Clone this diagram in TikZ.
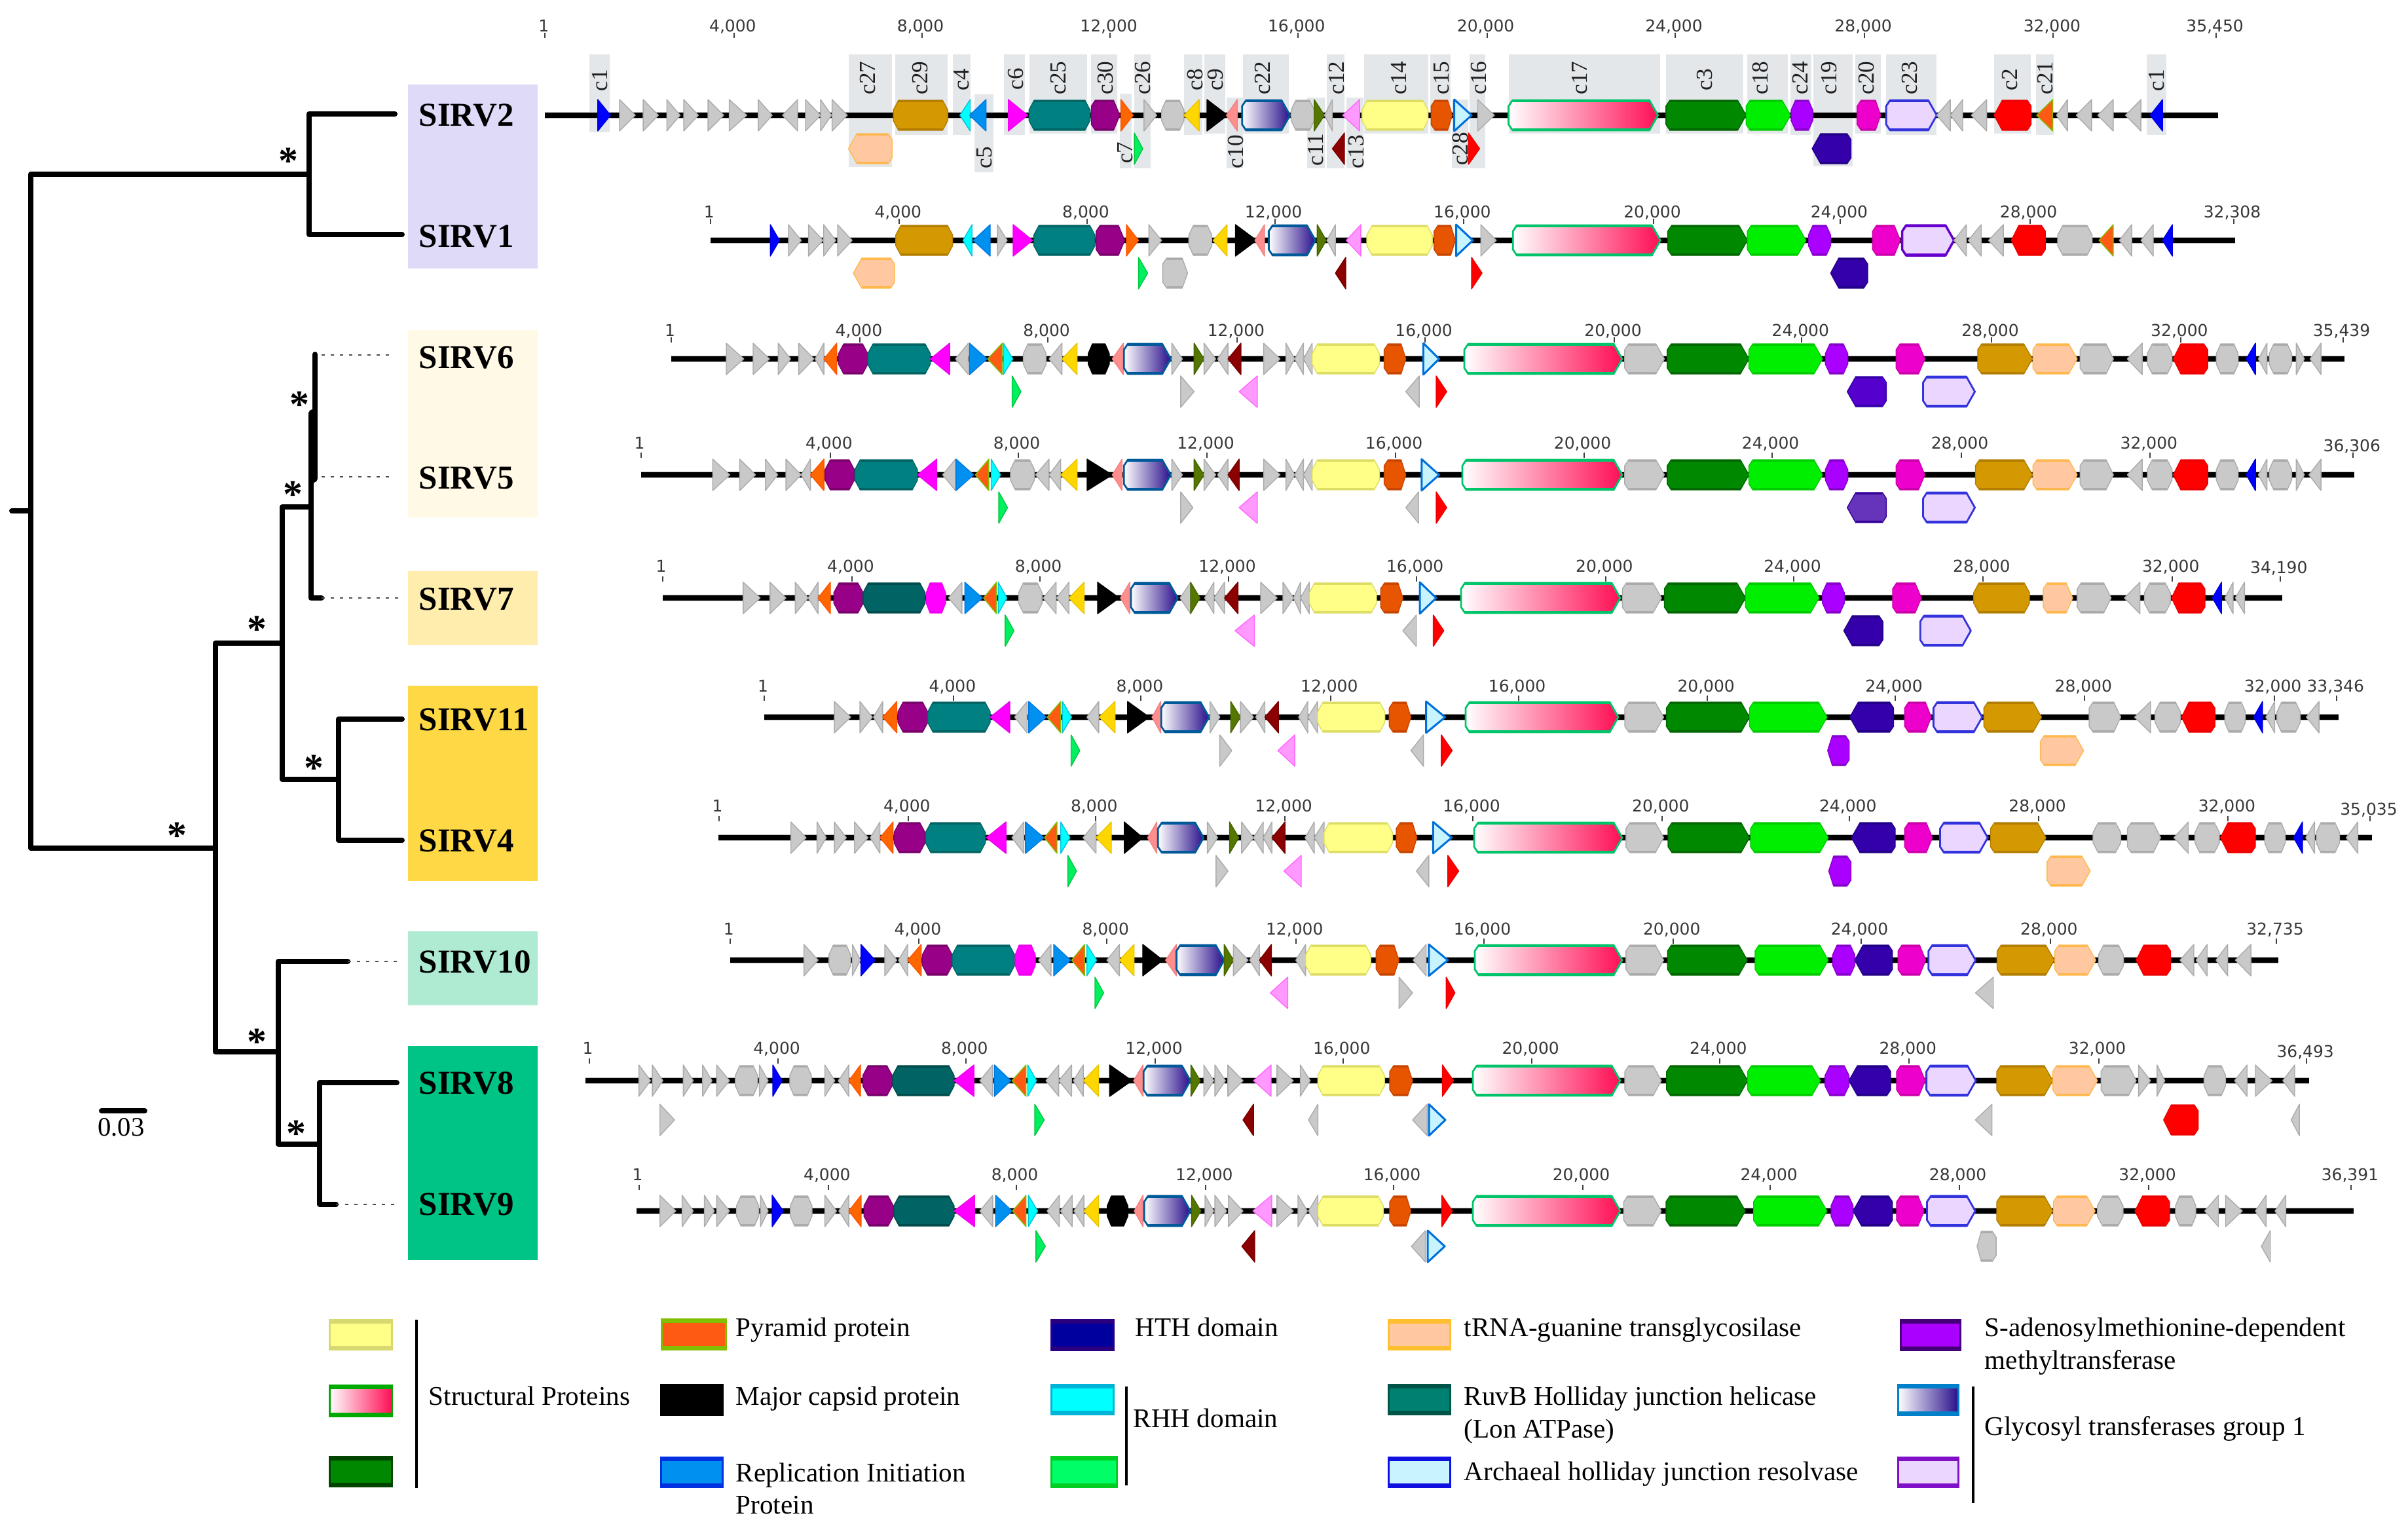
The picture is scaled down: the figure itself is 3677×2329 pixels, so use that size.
\documentclass[tikz,border=0pt]{standalone}
\usepackage{fontspec}
\setmainfont{Liberation Serif}
\newfontfamily\tickfam{DejaVu Sans}
\newcommand\defgene[3]{\definecolor{#1F}{HTML}{#2}\definecolor{#1S}{HTML}{#3}\tikzset{#1/.style={fill=#1F,draw=#1S}}}
\newcommand\defgrad[3]{\definecolor{#1F}{HTML}{#2}\definecolor{#1S}{HTML}{#3}\tikzset{#1/.style={left color=white,right color=#1F,draw=#1S,line width=.028cm}}}
\definecolor{boxgrey}{HTML}{E4E7EA}
\defgene{xgy}{C9C9C9}{ABABAB}
\defgene{xbu}{0000FF}{0000E0}
\defgene{xgo}{D49800}{B27D00}
\defgene{xcy}{00FFFF}{00C4DC}
\defgene{xrb}{0090F0}{0078E0}
\defgene{xmg}{FF00FF}{F000F0}
\defgene{xte}{008080}{006464}
\defgene{xtd}{006464}{004C4C}
\defgene{xpu}{990088}{7A006C}
\defgene{xor}{FF6600}{FF5500}
\defgene{xoc}{FF5A14}{7FC000}
\defgene{xye}{FFD700}{E8C400}
\defgene{xbk}{000000}{000000}
\defgene{xsa}{FF8F8F}{F58080}
\defgene{xol}{557700}{446600}
\defgene{xpk}{FF99FF}{FF66FF}
\defgene{xdr}{8B0000}{7A0000}
\defgene{xpy}{FFFF88}{DDDD66}
\defgene{xbo}{E85500}{C84500}
\defgene{xrd}{FF0000}{EE0000}
\defgene{xdg}{008800}{006600}
\defgene{xlg}{00EE00}{00CC00}
\defgene{xvi}{AA00FF}{8800CC}
\defgene{xin}{3300AA}{220088}
\defgene{xim}{5500CC}{3300AA}
\defgene{xil}{6633BB}{330099}
\defgene{xmd}{EE00CC}{CC00AA}
\defgene{xpe}{FFC8A0}{FFB84D}
\defgene{xgr}{00F060}{00C840}
\defgene{xlv}{EBD6FF}{3333DD}
\defgene{xlp}{EBD6FF}{6600CC}
\defgene{xlb}{C8F4FF}{0070D8}
\defgrad{xgt}{2A108C}{005A9A}
\defgrad{xgs}{FF0F55}{00C46A}
\tikzset{xlv/.append style={line width=.028cm},xlp/.append style={line width=.035cm},xlb/.append style={line width=.03cm},
 gene/.style={line width=.014cm,line join=round},
 tickmark/.style={draw=black!75,line width=.02cm},
 ticklabel/.style={anchor=base,inner sep=0pt,text=black!78,font=\tickfam\fontsize{7.1pt}{8pt}\selectfont},
 backbone/.style={draw=black,line width=.075cm},
 halo/.style={draw=black!25,line width=.1cm},
 labelbox/.style={fill=boxgrey,draw=none},
 contig/.style={rotate=90,inner sep=0pt,text=black!88,font=\fontsize{10pt}{11pt}\selectfont},
 branch/.style={draw=black,line width=.08cm,line cap=round,line join=round},
 dotline/.style={draw=black!70,line width=.016cm,dash pattern=on .05cm off .09cm},
 taxon/.style={anchor=base west,inner sep=0pt,font=\bfseries\fontsize{14.5pt}{16pt}\selectfont},
 star/.style={anchor=base,inner sep=0pt,font=\bfseries\fontsize{17pt}{18pt}\selectfont},
 legtext/.style={anchor=base west,inner sep=0pt,font=\fontsize{11.7pt}{13pt}\selectfont},
 legline/.style={draw=black,line width=.04cm}}
\newcount\nodeN
\newcommand\setx[2]{\def\Xo{#1}\def\Xf{#2}}
\newcommand\gcalc[2]{\pgfmathsetmacro\gA{\Xo+(#1)*\Xf}\pgfmathsetmacro\gB{\Xo+(#2)*\Xf}}
\newcommand\gTR[3]{\gcalc{#1}{#2}\path[gene,#3] (\gA,\Yc-24) -- (\gB,\Yc) -- (\gA,\Yc+24) -- cycle;}
\newcommand\gTL[3]{\gcalc{#1}{#2}\path[gene,#3] (\gB,\Yc-24) -- (\gA,\Yc) -- (\gB,\Yc+24) -- cycle;}
\newcommand\gband[3]{\draw[draw=#3S,line width=.035cm] (#1,\Yc-21.5) -- (#2,\Yc-21.5) (#1,\Yc+21.5) -- (#2,\Yc+21.5);}
\newcommand\gHR[3]{\gcalc{#1}{#2}\pgfmathsetmacro\gP{min(13,0.22*(\gB-\gA))}\path[gene,#3] (\gA,\Yc-14) -- (\gA+6,\Yc-23) -- (\gB-\gP,\Yc-23) -- (\gB,\Yc) -- (\gB-\gP,\Yc+23) -- (\gA+6,\Yc+23) -- (\gA,\Yc+14) -- cycle;\gband{\gA+6}{\gB-\gP}{#3}}
\newcommand\gHL[3]{\gcalc{#1}{#2}\pgfmathsetmacro\gP{min(13,0.22*(\gB-\gA))}\path[gene,#3] (\gB,\Yc-14) -- (\gB-6,\Yc-23) -- (\gA+\gP,\Yc-23) -- (\gA,\Yc) -- (\gA+\gP,\Yc+23) -- (\gB-6,\Yc+23) -- (\gB,\Yc+14) -- cycle;\gband{\gA+\gP}{\gB-6}{#3}}
\newcommand\gHH[3]{\gcalc{#1}{#2}\pgfmathsetmacro\gP{min(8,0.2*(\gB-\gA))}\path[gene,#3] (\gA,\Yc-8) -- (\gA+\gP,\Yc-23) -- (\gB-\gP,\Yc-23) -- (\gB,\Yc-8) -- (\gB,\Yc+8) -- (\gB-\gP,\Yc+23) -- (\gA+\gP,\Yc+23) -- (\gA,\Yc+8) -- cycle;\gband{\gA+\gP}{\gB-\gP}{#3}}
\newcommand\gsg[2]{{\setx{0}{1}\gHR{#1}{#2}{xgs}}}
\newcommand\gR[2]{\gTR{#1}{#2}{xgy}}
\newcommand\gL[2]{\gTL{#1}{#2}{xgy}}
\newcommand\gH[2]{\gHH{#1}{#2}{xgy}}
\newcommand\gG[2]{\gHR{#1}{#2}{xgy}}
\newcommand\tk[3][0]{\gcalc{#2}{#2}\global\advance\nodeN by 1
 \coordinate (tka\the\nodeN) at (\gA,\Yt-8);\coordinate (tkb\the\nodeN) at (\gA,\Yt);\draw[tickmark] (tka\the\nodeN) -- (tkb\the\nodeN);
 \node[ticklabel] (tkl\the\nodeN) at (\gA-2,\Yt-10+#1+\Ld) {#3};}
\newcommand\row[4]{\def\Yc{#2}\def\Ld{0}\pgfmathsetmacro\Yt{#2-25}\coordinate (bbs#1) at (#3,#2);\coordinate (bbe#1) at (#4,#2);\draw[halo] (bbs#1) -- (bbe#1);\draw[backbone] (bbs#1) -- (bbe#1);}
\newcommand\cbox[4]{\gcalc{#1}{#2}\fill[labelbox] (\gA,#3/3) rectangle (\gB,#4/3);}
\newcommand\clab[3]{\gcalc{#1}{#1}\global\advance\nodeN by 1\node[contig] (cl\the\nodeN) at (\gA,#2/3) {#3};}
\newcommand\taxbx[6]{\definecolor{#6}{HTML}{#5}\fill[fill=#6] (#1,#2) rectangle (#3,#4);}
\newcommand\swatch[5]{\path[#5,line width=.03cm,line join=miter] (#1,#2) rectangle (#3,#4);\draw[draw=#5S,line width=.05cm] (#1,#2+3) -- (#3,#2+3) (#1,#4-3) -- (#3,#4-3);}
\defgene{sA}{FFFF88}{D8D870}\defgene{sD}{FF5A14}{80C000}\defgene{sE}{000000}{000000}
\defgene{sC}{008800}{004400}\defgene{sF}{0090F0}{0030E0}\defgene{sG}{00009E}{2A0080}
\defgene{sH}{00FFFF}{00B4D8}\defgene{sI}{00FF66}{00CC22}\defgene{sJ}{FFC8A0}{FFC030}
\defgene{sK}{008070}{005548}\defgene{sL}{C8F4FF}{1010E0}\defgene{sM}{AA00FF}{440077}
\defgene{sO}{EBD6FF}{8010C8}
\defgrad{sB}{FF0F55}{00AA00}\defgrad{sN}{2A108C}{0080C8}
\begin{document}
\begin{tikzpicture}[x=0.01cm,y=-0.01cm]
\useasboundingbox (0,0) rectangle (3677,2329);
\fill[white] (0,0) rectangle (3677,2329);
% taxon boxes
\taxbx{623}{129}{821}{410}{DEDAF8}{bxa}
\taxbx{623}{504}{821}{790}{FFF9E6}{bxb}
\taxbx{623}{872}{821}{985}{FFEDAE}{bxc}
\taxbx{623}{1047}{821}{1345}{FFD845}{bxd}
\taxbx{623}{1422}{821}{1535}{AEEBD2}{bxe}
\taxbx{623}{1597}{821}{1924}{00C386}{bxf}
\node[taxon] (SIRV2) at (639,192) {SIRV2};
\node[taxon] (SIRV1) at (639,377) {SIRV1};
\node[taxon] (SIRV6) at (639,562) {SIRV6};
\node[taxon] (SIRV5) at (639,746) {SIRV5};
\node[taxon] (SIRV7) at (639,931) {SIRV7};
\node[taxon] (SIRV11) at (639,1115) {SIRV11};
\node[taxon] (SIRV4) at (639,1300) {SIRV4};
\node[taxon] (SIRV10) at (639,1485) {SIRV10};
\node[taxon] (SIRV8) at (639,1670) {SIRV8};
\node[taxon] (SIRV9) at (639,1855) {SIRV9};
% tree
\coordinate (ra) at (18,780);\coordinate (rb) at (47,780);
\coordinate (rt) at (47,266);\coordinate (rl) at (47,1295);
\coordinate (n1) at (472,266);\coordinate (n1a) at (472,174);\coordinate (n1b) at (472,358);
\coordinate (f2) at (603,174);\coordinate (f1) at (614,358);
\coordinate (n2) at (329,1295);\coordinate (n2a) at (329,982);\coordinate (n2b) at (329,1606);
\coordinate (n3) at (431,982);\coordinate (n3a) at (431,774);\coordinate (n3b) at (431,1190);
\coordinate (n4) at (475,774);\coordinate (n4a) at (475,632);\coordinate (n4b) at (475,913);\coordinate (f7) at (491,913);
\coordinate (n5a) at (478,632);\coordinate (n5b) at (478,730);\coordinate (n6a) at (481,541);\coordinate (n6b) at (481,640);
\coordinate (n7) at (517,1190);\coordinate (n7a) at (517,1098);\coordinate (n7b) at (517,1283);
\coordinate (f11) at (614,1098);\coordinate (f4) at (614,1283);
\coordinate (n8) at (425,1606);\coordinate (n8a) at (425,1468);\coordinate (n8b) at (425,1747);\coordinate (f10) at (531,1468);
\coordinate (n9) at (488,1747);\coordinate (n9a) at (488,1653);\coordinate (n9b) at (488,1839);
\coordinate (f8) at (606,1653);\coordinate (f9) at (513,1839);
\coordinate (d6a) at (491,542);\coordinate (d6b) at (601,542);\coordinate (d5a) at (491,728);\coordinate (d5b) at (601,728);
\coordinate (d7b) at (608,913);\coordinate (d10b) at (608,1468);\coordinate (d9b) at (606,1839);
\draw[branch] (ra) -- (rb);
\draw[branch] (n1) -- (rt) -- (rl) -- (n2);
\draw[branch] (f2) -- (n1a) -- (n1b) -- (f1);
\draw[branch] (n3) -- (n2a) -- (n2b) -- (n8);
\draw[branch] (n4) -- (n3a) -- (n3b) -- (n7);
\draw[branch] (n4a) -- (n4b) -- (f7);
\draw[branch,line width=.14cm] (n5a) -- (n5b);
\draw[branch] (n6a) -- (n6b);
\draw[branch] (f11) -- (n7a) -- (n7b) -- (f4);
\draw[branch] (f10) -- (n8a) -- (n8b) -- (n9);
\draw[branch] (f8) -- (n9a) -- (n9b) -- (f9);
\draw[dotline] (d6a) -- (d6b);\draw[dotline] (d5a) -- (d5b);\draw[dotline] (f7) -- (d7b);
\draw[dotline] (f10) -- (d10b);\draw[dotline] (f9) -- (d9b);
\node[star] (st1) at (440,265) {*};
\node[star] (st2) at (457,637) {*};
\node[star] (st3) at (447,774) {*};
\node[star] (st4) at (392,980) {*};
\node[star] (st5) at (479,1192) {*};
\node[star] (st6) at (270,1295) {*};
\node[star] (st7) at (392,1610) {*};
\node[star] (st8) at (452,1750) {*};
\coordinate (sba) at (155,1696);\coordinate (sbb) at (221,1696);
\draw[branch] (sba) -- (sbb);
\node[anchor=base,inner sep=0pt,font=\fontsize{11.6pt}{13pt}\selectfont] (sbl) at (185,1734) {0.03};
% ---------- contig boxes of SIRV2
\setx{800}{.9247}
\cbox{108}{142}{250}{605}\cbox{536}{608}{250}{765}\cbox{613}{700}{250}{618}\cbox{708}{738}{250}{618}
\cbox{744}{775}{433}{790}\cbox{793}{827}{250}{618}\cbox{835}{930}{250}{613}\cbox{936}{980}{250}{613}
\cbox{1008}{1035}{250}{770}\cbox{984}{1004}{430}{770}\cbox{1090}{1120}{250}{618}\cbox{1124}{1158}{250}{613}
\cbox{1160}{1187}{447}{770}\cbox{1187}{1263}{250}{613}\cbox{1293}{1323}{447}{770}\cbox{1326}{1355}{250}{770}
\cbox{1358}{1386}{447}{770}\cbox{1388}{1493}{250}{613}\cbox{1497}{1530}{250}{613}
\setx{2200}{.942}
\cbox{47}{72}{250}{770}\cbox{18}{45}{455}{770}\cbox{110}{356}{250}{613}\cbox{365}{490}{250}{613}
\cbox{497}{563}{250}{613}\cbox{567}{601}{250}{618}\cbox{604}{668}{250}{763}\cbox{672}{713}{250}{613}
\cbox{722}{804}{250}{618}\cbox{897}{956}{250}{613}\cbox{965}{994}{250}{618}\cbox{1144}{1176}{250}{618}
% ---------- SIRV2
\row{a}{176}{832}{3387}\def\Yt{58}
\setx{800}{.9247}
\tk{35}{1}\tk{347}{4,000}\tk{657}{8,000}\tk{968}{12,000}\tk{1278}{16,000}
\gTR{122}{143}{xbu}\gR{158}{184}\gR{197}{222}\gR{236}{258}\gR{264}{288}\gR{304}{330}\gR{339}{368}\gR{387}{410}\gL{427}{452}\gR{465}{490}\gR{490}{508}\gR{509}{534}
\gHH{610}{700}{xgo}\gTL{720}{737}{xcy}\gTL{736}{763}{xrb}\gTR{800}{832}{xmg}\gHH{834}{935}{xte}\gHR{937}{984}{xpu}\gTR{986}{1006}{xor}\gR{1024}{1045}\gH{1053}{1090}\gTL{1090}{1115}{xye}\gTR{1128}{1162}{xbk}\gTL{1160}{1178}{xsa}\gHR{1186}{1265}{xgt}\gH{1267}{1305}\gTR{1305}{1322}{xol}\gL{1322}{1335}\gTL{1352}{1380}{xpk}\gHH{1384}{1493}{xpy}\gHR{1498}{1533}{xbo}
\setx{2200}{.942}
\tk{75}{20,000}\tk{380}{24,000}\tk{687}{28,000}\tk{993}{32,000}\tk{1257}{35,450}
\gTR{22}{50}{xlb}\gR{60}{87}\gHR{110}{352}{xgs}\gHR{365}{495}{xdg}\gHR{495}{567}{xlg}\gHH{568}{603}{xvi}\gHR{675}{713}{xmd}\gHR{722}{804}{xlv}\gL{804}{826}\gL{826}{846}\gL{860}{885}\gHL{897}{957}{xrd}\gTL{966}{992}{xoc}\gL{998}{1016}\gL{1030}{1055}\gL{1065}{1090}\gL{1110}{1135}\gTL{1150}{1170}{xbu}
\def\Yc{227}
\gTR{45}{63}{xrd}\gHL{602}{665}{xin}
\setx{800}{.9247}
\gHL{536}{608}{xpe}\gTR{1008}{1022}{xgr}\gTL{1335}{1355}{xdr}
% contig labels
\clab{125}{368}{c1}\clab{568}{357}{c27}\clab{654}{357}{c29}\clab{723}{365}{c4}\clab{760}{722}{c5}\clab{812}{362}{c6}\clab{882}{357}{c25}\clab{960}{357}{c30}\clab{1022}{357}{c26}\clab{993}{700}{c7}\clab{1108}{365}{c8}\clab{1142}{365}{c9}\clab{1175}{695}{c10}\clab{1220}{357}{c22}\clab{1308}{685}{c11}\clab{1342}{357}{c12}\clab{1374}{695}{c13}\clab{1445}{357}{c14}\clab{1515}{357}{c15}
\setx{2200}{.942}
\clab{62}{357}{c16}\clab{32}{682}{c28}\clab{225}{357}{c17}\clab{428}{365}{c3}\clab{518}{357}{c18}\clab{583}{357}{c24}\clab{630}{357}{c19}\clab{690}{357}{c20}\clab{760}{357}{c23}\clab{923}{365}{c2}\clab{980}{357}{c21}\clab{1160}{368}{c1}
% ---------- SIRV1
\row{b}{367}{1085}{3413}
\setx{800}{.9247}
\tk{308}{1}\tk{620}{4,000}\tk{930}{8,000}\tk{1240}{12,000}
\gTR{407}{422}{xbu}\gR{437}{458}\gR{470}{494}\gR{495}{515}\gR{518}{542}\gHH{614}{708}{xgo}\gTL{725}{740}{xcy}\gTL{742}{770}{xrb}\gR{782}{798}\gTR{808}{840}{xmg}\gHH{842}{943}{xte}\gHR{945}{992}{xpu}\gTR{995}{1015}{xor}\gR{1032}{1053}\gH{1098}{1136}\gTL{1138}{1161}{xye}\gTR{1175}{1210}{xbk}\gTL{1207}{1223}{xsa}\gHR{1230}{1307}{xgt}\gTR{1310}{1325}{xol}\gL{1326}{1340}\gTL{1358}{1382}{xpk}\gHH{1392}{1500}{xpy}\gHR{1503}{1538}{xbo}
\setx{2200}{.942}
\tk{37}{16,000}\tk{345}{20,000}\tk{648}{24,000}\tk{955}{28,000}\tk{1285}{32,308}
\gTR{25}{52}{xlb}\gR{65}{90}\gHR{117}{356}{xgs}\gHR{368}{497}{xdg}\gHR{497}{592}{xlg}\gHH{596}{632}{xvi}\gHR{700}{745}{xmd}\gHR{748}{832}{xlp}\gL{832}{852}\gL{855}{876}\gL{888}{912}\gHL{925}{980}{xrd}\gH{1000}{1056}\gTL{1067}{1090}{xoc}\gL{1100}{1120}\gL{1135}{1155}\gTL{1170}{1186}{xbu}
\def\Yc{417}
\gTR{50}{67}{xrd}\gHL{632}{692}{xin}
\setx{800}{.9247}
\gHL{544}{612}{xpe}\gTR{1015}{1030}{xgr}\gG{1055}{1096}\gTL{1340}{1357}{xdr}
% ---------- SIRV6
\row{c}{548}{1025}{3580}
\setx{950}{.893}
\tk{84}{1}\tk{407}{4,000}\tk{728}{8,000}\tk{1052}{12,000}\tk{1373}{16,000}
\gR{178}{208}\gR{224}{252}\gR{267}{288}\gR{302}{328}\gL{330}{345}\gTL{345}{367}{xor}\gHH{370}{420}{xpu}\gHH{420}{527}{xte}\gTL{527}{560}{xmg}\gL{570}{592}\gTR{594}{624}{xrb}\gTL{625}{650}{xoc}\gTR{652}{668}{xcy}\gH{686}{725}\gL{730}{752}\gTL{752}{778}{xye}\gHH{797}{833}{xbk}\gTL{838}{857}{xsa}\gHR{858}{938}{xgt}\gR{940}{958}\gTR{978}{995}{xol}\gR{995}{1015}\gL{1018}{1036}\gTL{1036}{1058}{xdr}\gR{1097}{1125}\gR{1135}{1150}\gL{1150}{1165}\gL{1165}{1180}\gHH{1180}{1295}{xpy}\gHR{1303}{1340}{xbo}\gTR{1370}{1397}{xlb}
\setx{2300}{.878}
\gsg{2236}{2477}
\tk{188}{20,000}\tk{514}{24,000}\tk{844}{28,000}\tk{1173}{32,000}\tk{1455}{35,439}
\gG{206}{275}\gHR{280}{422}{xdg}\gHR{422}{550}{xlg}\gHH{555}{594}{xvi}\gHR{678}{728}{xmd}\gHR{820}{915}{xgo}\gHR{916}{993}{xpe}\gG{998}{1056}\gL{1080}{1106}\gH{1115}{1158}\gHL{1160}{1220}{xrd}\gH{1235}{1273}\gTL{1287}{1303}{xbu}\gL{1308}{1323}\gH{1327}{1366}\gR{1374}{1388}\gL{1398}{1417}
\def\Yc{598}
\gHL{593}{661}{xim}\gHR{725}{815}{xlv}
\setx{950}{.893}
\gTR{667}{682}{xgr}\gR{955}{978}\gTL{1055}{1086}{xpk}\gL{1340}{1363}\gTR{1392}{1410}{xrd}
% ---------- SIRV5
\row{d}{725}{979}{3595}\def\Yt{699}\def\Ld{-4}
\setx{950}{.893}
\tk{32}{1}\tk{356}{4,000}\tk{677}{8,000}\tk{1000}{12,000}\tk{1322}{16,000}
\gR{155}{184}\gR{201}{228}\gR{245}{266}\gR{280}{306}\gL{306}{322}\gTL{322}{345}{xor}\gHH{347}{397}{xpu}\gHH{398}{505}{xte}\gTL{505}{538}{xmg}\gL{548}{570}\gTR{571}{601}{xrb}\gTL{604}{627}{xoc}\gTR{631}{647}{xcy}\gH{664}{705}\gL{707}{730}\gL{730}{750}\gTL{750}{778}{xye}\gTR{795}{838}{xbk}\gTL{838}{855}{xsa}\gHR{858}{938}{xgt}\gR{940}{958}\gTR{978}{995}{xol}\gR{995}{1015}\gL{1018}{1036}\gTL{1036}{1055}{xdr}\gR{1097}{1125}\gR{1135}{1150}\gL{1150}{1165}\gL{1165}{1180}\gHH{1180}{1295}{xpy}\gHR{1303}{1340}{xbo}\gTR{1367}{1397}{xlb}
\setx{2300}{.878}
\gsg{2233}{2477}
\tk{135}{20,000}\tk{462}{24,000}\tk{791}{28,000}\tk{1120}{32,000}\tk[4]{1473}{36,306}
\gG{206}{275}\gHR{280}{422}{xdg}\gHR{422}{550}{xlg}\gHH{555}{594}{xvi}\gHR{678}{728}{xmd}\gHR{816}{915}{xgo}\gHR{916}{993}{xpe}\gG{998}{1056}\gL{1080}{1106}\gH{1115}{1158}\gHL{1160}{1220}{xrd}\gH{1235}{1273}\gTL{1287}{1303}{xbu}\gL{1308}{1323}\gH{1327}{1366}\gR{1374}{1388}\gL{1396}{1417}
\def\Yc{775}
\gHL{593}{661}{xil}\gHR{725}{815}{xlv}
\setx{950}{.893}
\gTR{644}{659}{xgr}\gR{955}{976}\gTL{1055}{1086}{xpk}\gL{1340}{1362}\gTR{1392}{1410}{xrd}
% ---------- SIRV7
\row{e}{913}{1012}{3485}\def\Yt{888}\def\Ld{-5}
\setx{950}{.893}
\tk{69}{1}\tk{393}{4,000}\tk{714}{8,000}\tk{1037}{12,000}\tk{1358}{16,000}
\gR{207}{236}\gR{253}{280}\gR{296}{318}\gL{318}{335}\gTL{335}{356}{xor}\gHH{362}{412}{xpu}\gHH{412}{518}{xtd}\gHH{520}{553}{xmg}\gL{558}{581}\gTR{586}{616}{xrb}\gTL{618}{640}{xoc}\gTR{643}{658}{xcy}\gH{678}{718}\gL{720}{742}\gL{743}{764}\gTL{764}{790}{xye}\gTR{813}{850}{xbk}\gTL{852}{868}{xsa}\gHR{870}{950}{xgt}\gL{954}{972}\gTR{972}{988}{xol}\gL{996}{1012}\gL{1012}{1030}\gTL{1030}{1053}{xdr}\gR{1092}{1120}\gR{1130}{1148}\gL{1148}{1160}\gL{1160}{1175}\gHH{1175}{1290}{xpy}\gHR{1297}{1335}{xbo}\gTR{1364}{1392}{xlb}
\setx{2300}{.878}
\gsg{2231}{2474}
\tk{173}{20,000}\tk{500}{24,000}\tk{829}{28,000}\tk{1158}{32,000}\tk[2]{1346}{34,190}
\gG{202}{270}\gHR{275}{416}{xdg}\gHR{416}{544}{xlg}\gHH{550}{588}{xvi}\gHR{672}{722}{xmd}\gHH{813}{910}{xgo}\gHR{934}{985}{xpe}\gG{993}{1052}\gL{1075}{1102}\gH{1110}{1155}\gHL{1157}{1215}{xrd}\gTL{1228}{1244}{xbu}\gL{1250}{1264}\gL{1268}{1284}
\def\Yc{963}
\gHL{587}{655}{xin}\gHR{720}{808}{xlv}
\setx{950}{.893}
\gTR{655}{670}{xgr}\gTL{1048}{1081}{xpk}\gL{1335}{1358}\gTR{1387}{1405}{xrd}
% ---------- SIRV11
\row{f}{1095}{1167}{3571}\def\Yt{1070}\def\Ld{-4}
\setx{1100}{.829}
\tk{81}{1}\tk{430}{4,000}\tk{775}{8,000}\tk{1124}{12,000}\tk{1470}{16,000}
\gR{210}{240}\gR{257}{280}\gL{282}{299}\gTL{299}{325}{xor}\gHH{327}{382}{xpu}\gHH{382}{497}{xte}\gTL{497}{533}{xmg}\gL{542}{565}\gTR{568}{600}{xrb}\gTL{602}{627}{xoc}\gTR{630}{647}{xcy}\gL{675}{697}\gTL{698}{727}{xye}\gTR{750}{790}{xbk}\gTL{795}{811}{xsa}\gHR{812}{900}{xgt}\gR{902}{920}\gTR{940}{958}{xol}\gR{958}{982}\gL{986}{1003}\gTL{1003}{1028}{xdr}\gL{1065}{1082}\gL{1082}{1100}\gHH{1100}{1224}{xpy}\gHR{1232}{1272}{xbo}\gTR{1300}{1335}{xlb}
\setx{2350}{.846}
\gsg{2238}{2471}
\tk{304}{20,000}\tk{643}{24,000}\tk{985}{28,000}\tk{1327}{32,000}\tk{1440}{33,346}
\gG{155}{225}\gHR{230}{380}{xdg}\gHR{380}{520}{xlg}\gHL{561}{640}{xin}\gHR{660}{708}{xmd}\gHR{712}{800}{xlv}\gHR{803}{907}{xgo}\gG{993}{1050}\gL{1075}{1104}\gH{1112}{1158}\gHL{1160}{1220}{xrd}\gH{1238}{1275}\gTL{1290}{1306}{xbu}\gL{1312}{1328}\gH{1332}{1374}\gL{1385}{1408}
\def\Yc{1146}
\gHL{521}{560}{xvi}\gHR{905}{983}{xpe}
\setx{1100}{.829}
\gTR{646}{662}{xgr}\gR{920}{942}\gTL{1027}{1058}{xpk}\gL{1272}{1295}\gTR{1328}{1348}{xrd}
% ---------- SIRV4
\row{g}{1279}{1097}{3622}\def\Yt{1254}\def\Ld{-5}
\setx{1100}{.829}
\tk{-3}{1}\tk{346}{4,000}\tk{691}{8,000}\tk{1040}{12,000}\tk{1386}{16,000}
\gR{130}{158}\gR{178}{195}\gR{210}{232}\gR{247}{272}\gL{276}{294}\gTL{294}{318}{xor}\gHH{320}{377}{xpu}\gHH{378}{488}{xte}\gTL{490}{526}{xmg}\gL{537}{559}\gTR{562}{596}{xrb}\gTL{597}{620}{xoc}\gTR{627}{644}{xcy}\gL{668}{692}\gTL{692}{720}{xye}\gTR{744}{778}{xbk}\gTL{787}{804}{xsa}\gHR{806}{890}{xgt}\gR{897}{916}\gTR{938}{955}{xol}\gR{960}{982}\gL{982}{1000}\gL{1000}{1016}\gTL{1016}{1040}{xdr}\gL{1077}{1094}\gL{1094}{1112}\gHH{1112}{1238}{xpy}\gHR{1245}{1283}{xbo}\gTR{1313}{1347}{xlb}
\setx{2350}{.846}
\gsg{2251}{2477}
\tk{222}{20,000}\tk{560}{24,000}\tk{902}{28,000}\tk{1244}{32,000}\tk[5]{1500}{35,035}
\gG{157}{225}\gHR{233}{380}{xdg}\gHR{382}{522}{xlg}\gHL{564}{643}{xin}\gHR{660}{710}{xmd}\gHR{724}{810}{xlv}\gHR{815}{915}{xgo}\gH{1000}{1050}\gG{1062}{1122}\gL{1146}{1172}\gH{1184}{1228}\gHL{1230}{1293}{xrd}\gH{1310}{1347}\gTL{1362}{1378}{xbu}\gL{1384}{1400}\gH{1403}{1445}\gL{1457}{1478}
\def\Yc{1330}
\gHL{523}{563}{xvi}\gHR{917}{995}{xpe}
\setx{1100}{.829}
\gTR{640}{656}{xgr}\gR{913}{935}\gTL{1038}{1070}{xpk}\gL{1282}{1305}\gTR{1340}{1360}{xrd}
% ---------- SIRV10
\row{h}{1466}{1115}{3479}\def\Yt{1441}\def\Ld{-4}
\setx{1100}{.829}
\tk{18}{1}\tk{366}{4,000}\tk{712}{8,000}\tk{1060}{12,000}\tk{1406}{16,000}
\gR{154}{180}\gH{200}{240}\gR{243}{258}\gTR{259}{285}{xbu}\gR{303}{325}\gL{328}{345}\gTL{345}{370}{xor}\gHH{372}{427}{xpu}\gHH{427}{542}{xte}\gHH{543}{580}{xmg}\gL{586}{609}\gTR{614}{645}{xrb}\gTL{647}{671}{xoc}\gTR{675}{693}{xcy}\gL{712}{735}\gTL{735}{762}{xye}\gTR{778}{815}{xbk}\gTL{820}{840}{xsa}\gHR{840}{928}{xgt}\gTR{928}{945}{xol}\gR{945}{972}\gL{975}{993}\gTL{993}{1015}{xdr}\gL{1060}{1078}\gHH{1078}{1198}{xpy}\gHR{1208}{1250}{xbo}\gL{1276}{1300}\gTR{1305}{1340}{xlb}
\setx{2350}{.846}
\gsg{2252}{2477}
\tk{242}{20,000}\tk{581}{24,000}\tk{923}{28,000}\tk{1331}{32,735}
\gG{157}{225}\gHR{232}{376}{xdg}\gHR{390}{522}{xlg}\gHH{530}{570}{xvi}\gHL{570}{638}{xin}\gHR{648}{698}{xmd}\gHR{703}{788}{xlv}\gHR{827}{930}{xgo}\gHR{931}{1005}{xpe}\gH{1010}{1055}\gHL{1078}{1140}{xrd}\gL{1157}{1182}\gL{1186}{1206}\gL{1222}{1243}\gL{1257}{1285}
\def\Yc{1516}
\gL{788}{820}
\setx{1100}{.829}
\gTR{690}{706}{xgr}\gTL{1013}{1045}{xpk}\gR{1250}{1275}\gTR{1337}{1353}{xrd}
% ---------- SIRV8
\row{i}{1650}{894}{3526}\def\Yt{1624}\def\Ld{-5}
\setx{880}{.893}
\tk{22}{1}\tk{345}{4,000}\tk{666}{8,000}\tk{990}{12,000}\tk{1311}{16,000}
\gR{107}{127}\gR{130}{148}\gR{183}{200}\gR{216}{232}\gR{240}{262}\gH{272}{310}\gR{313}{328}\gTR{336}{352}{xbu}\gH{365}{402}\gR{425}{442}\gL{448}{466}\gTL{466}{486}{xor}\gHH{490}{540}{xpu}\gHH{541}{646}{xtd}\gTL{646}{680}{xmg}\gL{690}{712}\gTR{715}{743}{xrb}\gTL{745}{769}{xoc}\gTR{772}{787}{xcy}\gL{803}{825}\gL{825}{847}\gL{850}{867}\gTL{867}{893}{xye}\gTR{912}{950}{xbk}\gTL{953}{969}{xsa}\gHR{970}{1050}{xgt}\gTR{1051}{1067}{xol}\gR{1073}{1090}\gR{1092}{1110}\gR{1114}{1140}\gTL{1158}{1188}{xpk}\gR{1198}{1226}\gR{1238}{1255}\gHH{1268}{1382}{xpy}\gHR{1391}{1430}{xbo}\gTR{1481}{1500}{xrd}
\setx{2250}{.91}
\gsg{2249}{2474}
\tk{98}{20,000}\tk{413}{24,000}\tk{731}{28,000}\tk{1049}{32,000}\tk[5]{1398}{36,493}
\gG{254}{315}\gHR{324}{460}{xdg}\gHR{460}{582}{xlg}\gHH{590}{630}{xvi}\gHL{630}{700}{xin}\gHR{710}{758}{xmd}\gHR{760}{843}{xlv}\gHR{878}{972}{xgo}\gHR{972}{1047}{xpe}\gG{1053}{1112}\gR{1116}{1136}\gR{1147}{1160}\gH{1226}{1262}\gL{1277}{1298}\gR{1312}{1340}\gL{1358}{1378}
\def\Yc{1710}
\gL{842}{870}\gHL{1158}{1216}{xrd}\gL{1372}{1386}
\setx{880}{.893}
\gR{143}{168}\gTR{784}{800}{xgr}\gTL{1140}{1158}{xdr}\gL{1252}{1268}\gL{1430}{1455}\gTR{1458}{1486}{xlb}
% ---------- SIRV9
\row{j}{1849}{972}{3594}\def\Yt{1817}\def\Ld{-5}
\setx{880}{.893}
\tk{107}{1}\tk{431}{4,000}\tk{752}{8,000}\tk{1076}{12,000}\tk{1397}{16,000}
\gR{143}{170}\gR{181}{200}\gR{219}{236}\gR{240}{262}\gH{274}{312}\gR{315}{328}\gTR{335}{354}{xbu}\gH{366}{403}\gR{425}{445}\gL{449}{466}\gTL{466}{487}{xor}\gHH{492}{542}{xpu}\gHH{543}{646}{xtd}\gTL{646}{681}{xmg}\gL{690}{712}\gTR{717}{745}{xrb}\gTL{746}{769}{xoc}\gTR{773}{789}{xcy}\gL{805}{826}\gL{828}{848}\gL{851}{868}\gTL{868}{893}{xye}\gHH{908}{943}{xbk}\gTL{954}{969}{xsa}\gHR{971}{1050}{xgt}\gTR{1052}{1068}{xol}\gR{1075}{1090}\gR{1092}{1112}\gR{1115}{1140}\gTL{1157}{1189}{xpk}\gR{1198}{1226}\gR{1234}{1250}\gL{1252}{1268}\gHH{1268}{1380}{xpy}\gHR{1391}{1427}{xbo}\gTR{1480}{1498}{xrd}
\setx{2250}{.91}
\gsg{2249}{2474}
\tk{183}{20,000}\tk{498}{24,000}\tk{815}{28,000}\tk{1133}{32,000}\tk{1473}{36,391}
\gG{252}{315}\gHR{323}{456}{xdg}\gHR{470}{593}{xlg}\gHH{600}{637}{xvi}\gHL{637}{703}{xin}\gHR{710}{756}{xmd}\gHR{761}{842}{xlv}\gHR{878}{972}{xgo}\gHR{973}{1043}{xpe}\gH{1047}{1090}\gHL{1110}{1168}{xrd}\gH{1178}{1212}\gL{1227}{1250}\gR{1262}{1290}\gL{1312}{1330}\gL{1345}{1363}
\def\Yc{1903}
\gHL{845}{877}{xgy}\gL{1322}{1337}
\setx{880}{.893}
\gTR{786}{802}{xgr}\gTL{1138}{1160}{xdr}\gL{1428}{1452}\gTR{1456}{1485}{xlb}
% ---------- legend
\swatch{503}{2015}{598}{2060}{sA}
\swatch{503}{2115}{598}{2162}{sB}
\swatch{503}{2224}{598}{2269}{sC}
\coordinate (la1) at (636,2015);\coordinate (la2) at (636,2272);\draw[legline] (la1) -- (la2);
\node[legtext] (lt1) at (654,2145) {Structural Proteins};
\swatch{1010}{2014}{1108}{2060}{sD}
\swatch{1009}{2114}{1103}{2160}{sE}
\swatch{1009}{2225}{1103}{2270}{sF}
\node[legtext] (lt2) at (1123,2040) {Pyramid protein};
\node[legtext] (lt3) at (1123,2145) {Major capsid protein};
\node[legtext] (lt4) at (1123,2262) {Replication Initiation};
\node[legtext] (lt5) at (1123,2311) {Protein};
\swatch{1605}{2015}{1700}{2061}{sG}
\swatch{1605}{2114}{1700}{2159}{sH}
\swatch{1605}{2224}{1705}{2270}{sI}
\coordinate (lb1) at (1720,2117);\coordinate (lb2) at (1720,2268);\draw[legline] (lb1) -- (lb2);
\node[legtext] (lt6) at (1733,2040) {HTH domain};
\node[legtext] (lt7) at (1730,2179) {RHH domain};
\swatch{2120}{2015}{2214}{2060}{sJ}
\swatch{2120}{2114}{2214}{2159}{sK}
\swatch{2120}{2225}{2214}{2270}{sL}
\node[legtext] (lt8) at (2235,2040) {tRNA-guanine transglycosilase};
\node[legtext] (lt9) at (2235,2145) {RuvB Holliday junction helicase};
\node[legtext] (lt10) at (2235,2195) {(Lon ATPase)};
\node[legtext] (lt11) at (2235,2260) {Archaeal holliday junction resolvase};
\swatch{2902}{2015}{2993}{2061}{sM}
\swatch{2898}{2114}{2990}{2160}{sN}
\swatch{2898}{2225}{2990}{2270}{sO}
\coordinate (lc1) at (3013,2117);\coordinate (lc2) at (3013,2295);\draw[legline] (lc1) -- (lc2);
\node[legtext] (lt12) at (3030,2040) {S-adenosylmethionine-dependent};
\node[legtext] (lt13) at (3030,2090) {methyltransferase};
\node[legtext] (lt14) at (3030,2191) {Glycosyl transferases group 1};
\end{tikzpicture}
\end{document}
